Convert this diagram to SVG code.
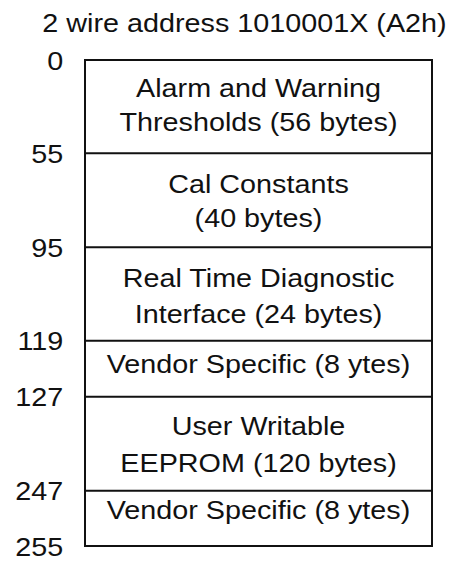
<svg xmlns="http://www.w3.org/2000/svg" width="454" height="561" viewBox="0 0 454 561">
<style>
text{font-family:"Liberation Sans",Arial,sans-serif;font-size:25px;fill:#111}
.c{text-anchor:middle}
.n{text-anchor:end}
.box{fill:#fff;stroke:#111;stroke-width:2}
.div{stroke:#111;stroke-width:2;fill:none}
</style>
<rect width="454" height="561" fill="#fff"/>
<text class="c" transform="translate(244.5,32) scale(1.15,1)">2 wire address 1010001X (A2h)</text>
<g id="memory-map">
<rect class="box" x="85" y="60" width="347" height="486"/>
</g>
<g id="connectors">
<line class="div" x1="85" y1="153.3" x2="432" y2="153.3"/>
<line class="div" x1="85" y1="247.3" x2="432" y2="247.3"/>
<line class="div" x1="85" y1="340.7" x2="432" y2="340.7"/>
<line class="div" x1="85" y1="396.7" x2="432" y2="396.7"/>
<line class="div" x1="85" y1="490.7" x2="432" y2="490.7"/>
</g>
<g id="alarm">
<text class="c" transform="translate(258.5,96.7) scale(1.15,1)">Alarm and Warning</text>
<text class="c" transform="translate(258.5,131) scale(1.15,1)">Thresholds (56 bytes)</text>
</g>
<g id="cal">
<text class="c" transform="translate(258.5,192.7) scale(1.15,1)">Cal Constants</text>
<text class="c" transform="translate(258.5,226.7) scale(1.15,1)">(40 bytes)</text>
</g>
<g id="rtdi">
<text class="c" transform="translate(258.5,287) scale(1.15,1)">Real Time Diagnostic</text>
<text class="c" transform="translate(258.5,323) scale(1.15,1)">Interface (24 bytes)</text>
</g>
<g id="vendor1">
<text class="c" transform="translate(258.5,373.3) scale(1.15,1)">Vendor Specific (8 ytes)</text>
</g>
<g id="user">
<text class="c" transform="translate(258.5,435) scale(1.15,1)">User Writable</text>
<text class="c" transform="translate(258.5,472) scale(1.15,1)">EEPROM (120 bytes)</text>
</g>
<g id="vendor2">
<text class="c" transform="translate(258.5,519) scale(1.15,1)">Vendor Specific (8 ytes)</text>
</g>
<g id="labels">
<text class="n" transform="translate(63.3,69.5) scale(1.15,1)">0</text>
<text class="n" transform="translate(63.3,162.8) scale(1.15,1)">55</text>
<text class="n" transform="translate(63.3,256.8) scale(1.15,1)">95</text>
<text class="n" transform="translate(63.3,350.2) scale(1.15,1)">119</text>
<text class="n" transform="translate(63.3,406.2) scale(1.15,1)">127</text>
<text class="n" transform="translate(63.3,500.2) scale(1.15,1)">247</text>
<text class="n" transform="translate(63.3,555.5) scale(1.15,1)">255</text>
</g>
</svg>
